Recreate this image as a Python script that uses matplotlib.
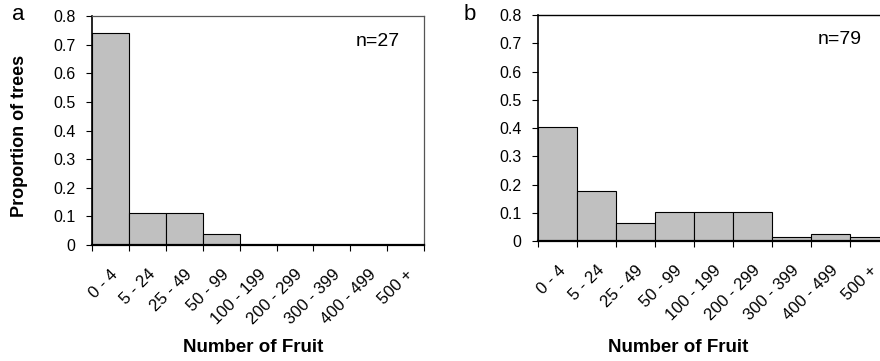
import numpy as np
import matplotlib
matplotlib.use("Agg")
import matplotlib.pyplot as plt

plt.rcParams["font.family"] = ["Liberation Sans", "DejaVu Sans"]

# fruit classes
categories = ["0 - 4", "5 - 24", "25 - 49", "50 - 99", "100 - 199",
              "200 - 299", "300 - 399", "400 - 499", "500 +"]

# proportion of trees per class
prop_a = [0.741, 0.111, 0.111, 0.037, 0, 0, 0, 0, 0]
prop_b = [0.405, 0.177, 0.063, 0.101, 0.101, 0.101, 0.013, 0.025, 0.013]

n_a = "n=27"
n_b = "n=79"

yticks = [0, 0.1, 0.2, 0.3, 0.4, 0.5, 0.6, 0.7, 0.8]
ytick_labels = ["0", "0.1", "0.2", "0.3", "0.4", "0.5", "0.6", "0.7", "0.8"]

fig = plt.figure(figsize=(8.8, 3.61), dpi=100)

ax_a = fig.add_axes([0.1045, 0.3213, 0.3775, 0.6344])
ax_b = fig.add_axes([0.6114, 0.3324, 0.399, 0.626])


def draw_panel(ax, values, n_text):
    x = np.arange(len(values))
    ax.bar(x, values, width=1.0, color="#c0c0c0", edgecolor="black", linewidth=0.8)
    ax.set_xlim(-0.5, len(values) - 0.5)
    ax.set_ylim(0, 0.8)
    ax.set_yticks(yticks)
    ax.set_yticklabels(ytick_labels, fontsize=11.5)
    ax.set_xticks(np.arange(len(values) + 1) - 0.5)
    ax.set_xticklabels([])
    ax.set_xticks(x, minor=True)
    ax.set_xticklabels(categories, minor=True, rotation=45, ha="right",
                       va="top", rotation_mode="anchor", fontsize=12)
    ax.tick_params(axis="x", which="minor", length=0, pad=15.5)
    ax.tick_params(axis="x", which="major", length=4, width=0.8, direction="out")
    ax.tick_params(axis="y", length=4, width=0.8, direction="out", pad=8)
    ax.text(7.24, 0.712, n_text, ha="center", va="center", fontsize=14)
    ax.spines["bottom"].set_linewidth(1.6)
    ax.spines["left"].set_linewidth(1.2)


draw_panel(ax_a, prop_a, n_a)
draw_panel(ax_b, prop_b, n_b)

for sp in ["top", "right"]:
    ax_a.spines[sp].set_color("#555555")
    ax_a.spines[sp].set_linewidth(0.9)
ax_b.spines["top"].set_linewidth(1.0)
ax_b.spines["right"].set_visible(False)

fig.text(20 / 880, 1 - 136 / 361, "Proportion of trees", rotation=90,
         ha="center", va="center", fontsize=13, fontweight="bold")
fig.text(253 / 880, 1 - 347 / 361, "Number of Fruit", ha="center", va="center",
         fontsize=13.5, fontweight="bold")
fig.text(678 / 880, 1 - 348 / 361, "Number of Fruit", ha="center", va="center",
         fontsize=13.5, fontweight="bold")

fig.text(18 / 880, 1 - 15 / 361, "a", ha="center", va="center", fontsize=16)
fig.text(470 / 880, 1 - 15 / 361, "b", ha="center", va="center", fontsize=16)

fig.savefig("out.png", dpi=100)
